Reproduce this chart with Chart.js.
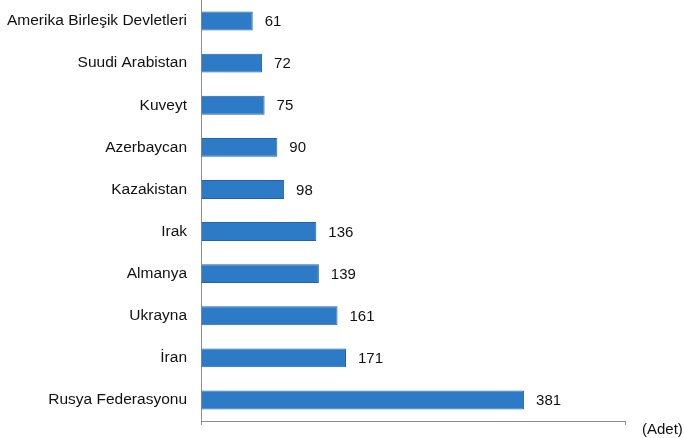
<!DOCTYPE html>
<html>
<head>
<meta charset="utf-8">
<script src="https://cdn.jsdelivr.net/npm/chart.js@4/dist/chart.umd.min.js"></script>
<style>
html,body{margin:0;padding:0;background:#fff;}
#wrap{width:684px;height:438px;position:relative;}
</style>
</head>
<body>
<div id="wrap"><canvas id="c"></canvas></div>
<script>
const categories = ["Amerika Birleşik Devletleri","Suudi Arabistan","Kuveyt","Azerbaycan","Kazakistan","Irak","Almanya","Ukrayna","İran","Rusya Federasyonu"];
const values = [61,72,75,90,98,136,139,161,171,381];
const unitLabel = "(Adet)";

const FONT = "'Liberation Sans', Arial, sans-serif";

const valueLabels = {
  id: 'valueLabels',
  afterDatasetsDraw(chart) {
    const ctx = chart.ctx;
    const meta = chart.getDatasetMeta(0);
    ctx.save();
    ctx.font = "15px " + FONT;
    ctx.fillStyle = "#111111";
    ctx.textAlign = "left";
    ctx.textBaseline = "middle";
    meta.data.forEach((bar, i) => {
      ctx.fillText(String(values[i]), bar.x + 12, bar.y + 1);
    });
    const ca = chart.chartArea;
    ctx.fillText(unitLabel, ca.right + 17, ca.bottom + 9);
    ctx.restore();
  }
};

new Chart(document.getElementById('c'), {
  type: 'bar',
  data: {
    labels: categories,
    datasets: [{
      data: values,
      backgroundColor: '#2D7BC6',
      borderColor: '#2164A8',
      borderWidth: 1,
      barPercentage: 0.9,
      categoryPercentage: 0.5
    }]
  },
  options: {
    indexAxis: 'y',
    responsive: true,
    maintainAspectRatio: false,
    animation: false,
    layout: { padding: { top: 0, right: 59, bottom: 13, left: 0 } },
    plugins: { legend: { display: false }, tooltip: { enabled: false } },
    scales: {
      x: {
        min: 0, max: 500,
        ticks: { display: false, stepSize: 500 },
        grid: { display: true, drawOnChartArea: false, drawTicks: true, tickLength: 4, color: '#8c8c8c' },
        border: { display: true, color: '#8c8c8c', width: 1 }
      },
      y: {
        afterFit(scale) { scale.width = 201; scale.paddingTop = 0; scale.paddingBottom = 0; },
        ticks: { color: '#111111', font: { family: FONT, size: 15.5 }, padding: 14 },
        grid: { display: false, drawTicks: false },
        border: { display: true, color: '#8c8c8c', width: 1 }
      }
    }
  },
  plugins: [valueLabels]
});
</script>
</body>
</html>
